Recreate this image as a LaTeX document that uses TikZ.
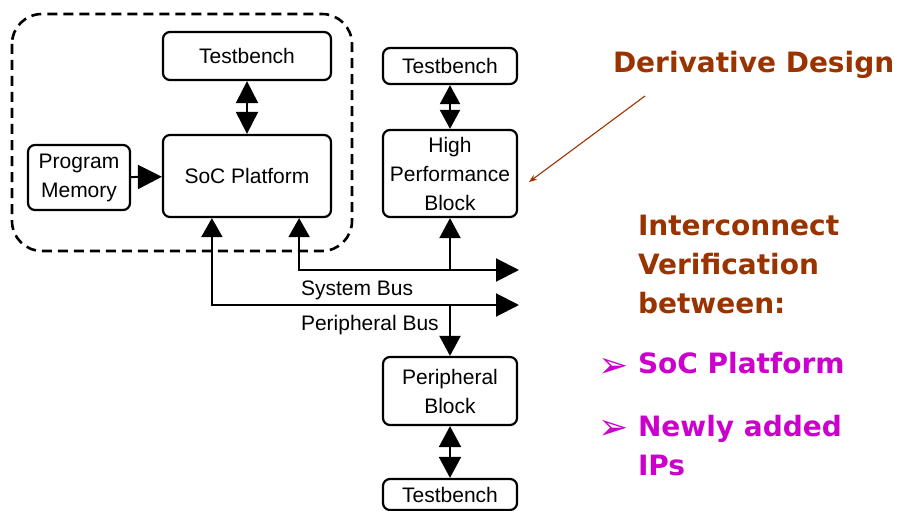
\documentclass[tikz,border=0pt]{standalone}
\usepackage{fontspec}
\setmainfont{Liberation Sans}
\newfontfamily\slidefont{DejaVu Sans}
\usetikzlibrary{arrows.meta}
\definecolor{derivbrown}{HTML}{993300}
\definecolor{ipmagenta}{HTML}{CC00CC}

\begin{document}
\begin{tikzpicture}[x=1pt, y=-1pt, line width=2pt,
	block/.style={draw, rounded corners=7pt, line width=2.2pt, align=center, inner sep=0pt, font=\fontsize{21}{29}\selectfont},
	tri/.style={-{Triangle[length=20pt,width=21pt]}},
	bitri/.style={{Triangle[length=22pt,width=22pt]}-{Triangle[length=22pt,width=22pt]}},
	note/.style={font=\slidefont\bfseries\fontsize{28}{39}\selectfont, align=left, inner sep=0pt}]
	\useasboundingbox (0,0) rectangle (898,511);
	\draw[dashed, dash pattern=on 10pt off 6pt, line width=2.6pt, rounded corners=30pt] (12,14) rectangle (352,251);
	\node[block, minimum width=168pt, minimum height=48pt] (tbsoc) at (247,56) {Testbench};
	\node[block, minimum width=168pt, minimum height=82pt] (soc) at (247,176) {SoC Platform};
	\node[block, minimum width=102pt, minimum height=65pt] (pm) at (79,177.5) {Program\\Memory};
	\node[block, minimum width=134pt, minimum height=36pt] (tbhpb) at (450,66) {Testbench};
	\node[block, minimum width=134pt, minimum height=87pt] (hpb) at (450,173.5) {High\\Performance\\Block};
	\node[block, minimum width=134pt, minimum height=68pt] (pb) at (450,391) {Peripheral\\Block};
	\node[block, minimum width=134pt, minimum height=31pt] (tbpb) at (450,494.5) {Testbench};
	\coordinate (sysend) at (519,270);
	\coordinate (perend) at (519,305);
	\draw[-{Triangle[length=24pt,width=24pt]}] (pm) -- (soc);
	\draw[bitri] (tbsoc) -- (soc);
	\draw[{Triangle[length=19pt,width=20pt]}-{Triangle[length=19pt,width=20pt]}] (tbhpb) -- (hpb);
	\draw[{Triangle[length=21pt,width=22pt]}-{Triangle[length=21pt,width=22pt]}] (pb) -- (tbpb);
	\draw[{Triangle[length=19pt,width=21pt]}-{Triangle[length=23pt,width=23pt]}] ([xshift=-33pt]soc.south east) |- (sysend);
	\draw[{Triangle[length=19pt,width=21pt]}-{Triangle[length=23pt,width=23pt]}] ([xshift=50pt]soc.south west) |- (perend);
	\draw[tri] (hpb.south |- sysend) -- (hpb.south);
	\draw[tri] (hpb.south |- perend) -- (pb.north);
	\node[anchor=base west, inner sep=0pt, font=\fontsize{21}{24}\selectfont] (sysbus) at (300,295) {System Bus};
	\node[anchor=base west, inner sep=0pt, font=\fontsize{21}{24}\selectfont] (perbus) at (300,330) {Peripheral Bus};
	\node[note, anchor=base west, text=derivbrown] (deriv) at (612,73) {Derivative Design};
	\coordinate (derivtip) at (529,182);
	\draw[derivbrown, line width=1.1pt, -{Stealth[length=8pt,width=6pt]}] (645,96) -- (derivtip);
	\node[note, anchor=north west, text=derivbrown] (icv) at (637,214) {Interconnect\\Verification\\between:};
	\node[anchor=base west, inner sep=0pt, text=ipmagenta, font=\slidefont\fontsize{36}{40}\selectfont] (b1) at (597,377) {➢};
	\node[note, anchor=base west, text=ipmagenta] (ip1) at (637,373) {SoC Platform};
	\node[anchor=base west, inner sep=0pt, text=ipmagenta, font=\slidefont\fontsize{36}{40}\selectfont] (b2) at (597,439) {➢};
	\node[note, anchor=north west, text=ipmagenta] (ip2) at (637,414) {Newly added\\IPs};
\end{tikzpicture}
\end{document}
